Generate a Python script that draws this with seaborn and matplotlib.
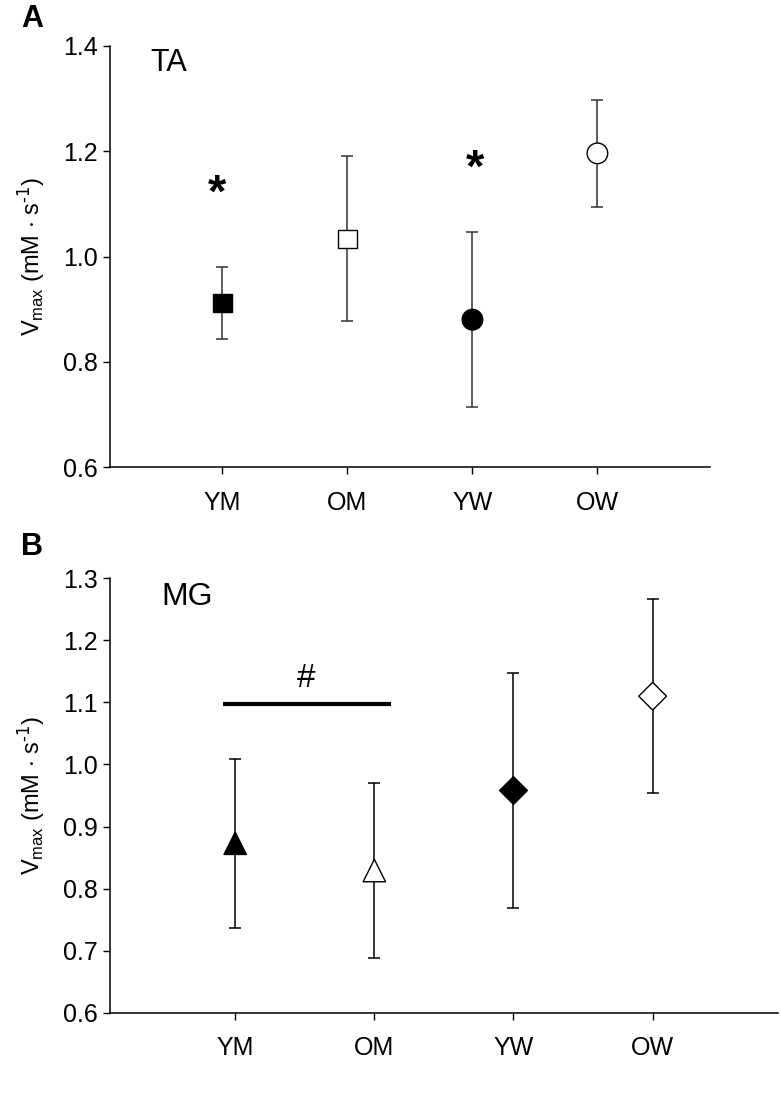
import numpy as np
import pandas as pd
import matplotlib
matplotlib.use("Agg")
import matplotlib.pyplot as plt
import seaborn as sns

# group labels
groups = ["YM", "OM", "YW", "OW"]

# panel A: TA
ta_mean = [0.912, 1.034, 0.880, 1.196]
ta_err = [0.068, 0.157, 0.166, 0.101]
ta_marker = ["s", "s", "o", "o"]
ta_fill = ["black", "white", "black", "white"]

# panel B: MG
mg_mean = [0.873, 0.829, 0.958, 1.110]
mg_err = [0.136, 0.141, 0.190, 0.156]
mg_marker = ["^", "^", "D", "D"]
mg_fill = ["black", "white", "black", "white"]

sns.set_style("ticks")
plt.rcParams["font.family"] = ["Liberation Sans", "DejaVu Sans"]
plt.rcParams["mathtext.default"] = "regular"
for k in ["text.color", "axes.labelcolor", "xtick.color", "ytick.color"]:
    plt.rcParams[k] = "black"

fig = plt.figure(figsize=(7.81, 11.03), dpi=100)
ax_a = fig.add_axes([0.1408, 0.5766, 0.909 - 0.1408, 0.9583 - 0.5766])
ax_b = fig.add_axes([0.1408, 0.0819, 0.996 - 0.1408, 0.4757 - 0.0819])

ylabel = r"V$_{max}$ (mM $\cdot$ s$^{\text{-1}}$)"


def draw_panel(ax, means, errs, markers, fills, msize, ecolor):
    x = np.arange(1, len(groups) + 1)
    df = pd.DataFrame({"x": x, "y": means, "m": markers, "f": fills})
    ax.errorbar(x, means, yerr=errs, fmt="none", ecolor=ecolor,
                elinewidth=1.1, capsize=4.5, capthick=1.1, zorder=2)
    for mk in df["m"].unique():
        sub = df[df["m"] == mk]
        sns.scatterplot(data=sub, x="x", y="y", hue="f",
                        palette={"black": "black", "white": "white"},
                        marker=mk, s=msize.get(mk, 150), edgecolor="black",
                        linewidth=1.0, legend=False, ax=ax, zorder=3)
    ax.set_xlim(0.1, 4.9)
    ax.set_xticks(x)
    ax.set_xticklabels(groups)
    ax.set_xlabel("")
    ax.set_ylabel(ylabel, fontsize=17, labelpad=11)
    ax.tick_params(axis="both", labelsize=18, direction="out", length=5,
                   width=1, color="black")
    ax.tick_params(axis="x", pad=12)
    ax.tick_params(axis="y", pad=4)
    for s in ["top", "right"]:
        ax.spines[s].set_visible(False)
    for s in ["left", "bottom"]:
        ax.spines[s].set_linewidth(1.1)
        ax.spines[s].set_color("black")


draw_panel(ax_a, ta_mean, ta_err, ta_marker, ta_fill,
           {"s": 170, "o": 220}, "#333333")
ax_a.set_ylim(0.6, 1.4)
ax_a.set_yticks(np.arange(0.6, 1.41, 0.2))
ax_a.yaxis.set_major_formatter(matplotlib.ticker.FormatStrFormatter("%.1f"))
ax_a.text(0.42, 1.368, "TA", fontsize=22, ha="left", va="center")
ax_a.text(0.96, 1.118, "*", fontsize=34, fontweight="bold", ha="center", va="center")
ax_a.text(3.02, 1.165, "*", fontsize=34, fontweight="bold", ha="center", va="center")

draw_panel(ax_b, mg_mean, mg_err, mg_marker, mg_fill,
           {"^": 260, "D": 200}, "black")
ax_b.set_ylim(0.6, 1.3)
ax_b.set_yticks(np.arange(0.6, 1.31, 0.1))
ax_b.yaxis.set_major_formatter(matplotlib.ticker.FormatStrFormatter("%.1f"))
ax_b.text(0.47, 1.270, "MG", fontsize=23, ha="left", va="center")
ax_b.plot([0.91, 2.12], [1.097, 1.097], color="black", lw=3, solid_capstyle="butt")
ax_b.text(1.51, 1.138, "#", fontsize=24, ha="center", va="center")

fig.text(0.027, 0.983, "A", fontsize=22, fontweight="bold", ha="left", va="center")
fig.text(0.027, 0.504, "B", fontsize=22, fontweight="bold", ha="left", va="center")

fig.savefig("out.png", dpi=100)
